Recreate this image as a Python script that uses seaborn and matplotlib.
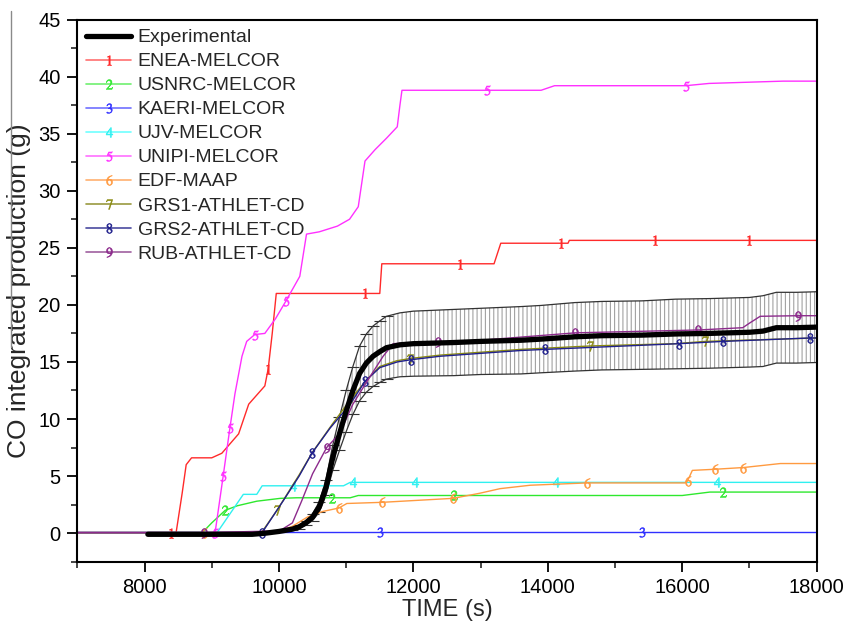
import numpy as np
import pandas as pd
import matplotlib
matplotlib.use("Agg")
import matplotlib.pyplot as plt
from matplotlib.lines import Line2D
from matplotlib.ticker import MultipleLocator
import seaborn as sns

# ---------------- data ----------------
exp_t = [8050, 9000, 9600, 9800, 10000, 10200, 10300, 10400, 10500, 10600, 10700, 10800,
         10900, 11000, 11100, 11200, 11300, 11400, 11500, 11600, 11800, 12000, 12600, 13000,
         13600, 13900, 14400, 14800, 15400, 15900, 16400, 17000, 17200, 17400, 17700, 18000]
exp_v = [-0.1, -0.1, -0.1, 0.0, 0.15, 0.35, 0.55, 0.9, 1.4, 2.3, 4.0, 6.6,
         8.7, 10.7, 12.5, 14.0, 14.9, 15.5, 15.9, 16.25, 16.5, 16.6, 16.7, 16.8,
         16.9, 17.0, 17.2, 17.3, 17.35, 17.45, 17.5, 17.6, 17.7, 18.0, 18.0, 18.05]
exp_err = [0, 0, 0, 0, 0, 0.1, 0.15, 0.2, 0.3, 0.45, 0.7, 1.1,
           1.45, 1.8, 2.1, 2.4, 2.55, 2.65, 2.7, 2.75, 2.8, 2.85, 2.9, 2.9,
           2.95, 2.95, 3.0, 3.0, 3.0, 3.05, 3.05, 3.05, 3.1, 3.1, 3.1, 3.1]

enea_t = [7000, 8400, 8470, 8560, 8620, 8700, 9000, 9150, 9400, 9550, 9790, 9840, 9900, 9960,
          10020, 11280, 11500, 11530, 12700, 13200, 13300, 14200, 14300, 14320, 15600, 17000, 18000]
enea_v = [0.05, 0.05, 0.05, 3.5, 6.0, 6.6, 6.6, 7.0, 8.7, 11.3, 12.9, 14.4, 17.5, 21.0,
          21.0, 21.0, 21.0, 23.6, 23.6, 23.6, 25.4, 25.4, 25.4, 25.65, 25.65, 25.65, 25.65]
enea_mk = [1, 11, 15, 18, 21, 24, 25]

usnrc_t = [7000, 8860, 9000, 9200, 9380, 9670, 10020, 10265, 10790, 11060, 11180, 12600,
           16000, 16410, 16600, 18000]
usnrc_v = [0.05, 0.05, 0.9, 2.0, 2.4, 2.8, 3.05, 3.1, 3.1, 3.1, 3.3, 3.3,
           3.3, 3.6, 3.6, 3.6]
usnrc_mk = [3, 8, 11, 14]

kaeri_t = [7000, 11500, 15400, 18000]
kaeri_v = [0.1, 0.1, 0.1, 0.1]
kaeri_mk = [1, 2]

ujv_t = [7000, 9080, 9470, 9670, 9750, 10210, 10960, 11060, 11100, 12030, 14120, 16520, 18000]
ujv_v = [0.05, 0.05, 3.4, 3.4, 4.15, 4.15, 4.15, 4.45, 4.45, 4.45, 4.45, 4.45, 4.45]
ujv_mk = [5, 8, 9, 10, 11]

unipi_t = [7000, 9050, 9170, 9270, 9345, 9450, 9520, 9640, 9790, 9950, 10100, 10310, 10410,
           10600, 10870, 11050, 11180, 11280, 11430, 11600, 11760, 11800, 11830, 13100, 13900,
           14100, 16050, 16400, 17500, 18000]
unipi_v = [0.05, 0.05, 5.0, 9.2, 12.2, 15.5, 16.8, 17.4, 17.5, 18.8, 20.3, 22.5, 26.2,
           26.4, 26.9, 27.5, 28.6, 32.6, 33.6, 34.6, 35.6, 37.5, 38.8, 38.8, 38.8,
           39.2, 39.2, 39.4, 39.6, 39.6]
unipi_mk = [1, 2, 3, 7, 10, 23, 26]

edf_t = [7000, 8890, 9950, 10200, 10420, 10650, 10890, 11010, 11530, 12590, 12990, 13290,
         13740, 14580, 16040, 16080, 16150, 16490, 16910, 17460, 18000]
edf_v = [0.05, 0.05, 0.05, 0.6, 1.4, 1.9, 2.2, 2.6, 2.7, 3.05, 3.5, 3.9,
         4.2, 4.4, 4.4, 4.6, 5.5, 5.6, 5.75, 6.1, 6.1]
edf_mk = [1, 6, 8, 9, 13, 15, 17, 18]

grs1_t = [7000, 9740, 9970, 10300, 10500, 10800, 11090, 11300, 11500, 11750, 11950, 12400,
          13600, 14630, 15900, 16340, 18000]
grs1_v = [0.05, 0.05, 2.0, 5.1, 7.1, 9.6, 11.9, 13.4, 14.6, 15.1, 15.3, 15.6,
          16.1, 16.4, 16.6, 16.8, 17.1]
grs1_mk = [2, 6, 10, 13, 15]

grs2_t = [7000, 9750, 10065, 10300, 10490, 10760, 11060, 11280, 11500, 11760, 11970, 12400,
          13590, 13960, 15950, 16610, 17900, 18000]
grs2_v = [0.05, 0.05, 2.85, 5.0, 7.0, 9.2, 11.3, 13.3, 14.5, 15.0, 15.2, 15.5,
          16.0, 16.1, 16.6, 16.8, 17.1, 17.1]
grs2_mk = [1, 4, 7, 10, 13, 14, 15, 16]

rub_t = [7000, 8890, 10010, 10200, 10340, 10500, 10710, 10900, 11100, 11310, 11550, 11700,
         12000, 12370, 13000, 14410, 16240, 16900, 17000, 17160, 17720, 18000]
rub_v = [0.05, 0.05, 0.2, 0.9, 2.85, 5.2, 7.5, 8.7, 11.3, 13.3, 15.5, 16.6,
         16.7, 16.75, 16.9, 17.55, 17.8, 18.0, 18.4, 19.0, 19.05, 19.05]
rub_mk = [1, 6, 13, 15, 16, 20]

series_names = ["ENEA-MELCOR", "USNRC-MELCOR", "KAERI-MELCOR", "UJV-MELCOR", "UNIPI-MELCOR",
                "EDF-MAAP", "GRS1-ATHLET-CD", "GRS2-ATHLET-CD", "RUB-ATHLET-CD"]
series_data = [(enea_t, enea_v, enea_mk), (usnrc_t, usnrc_v, usnrc_mk), (kaeri_t, kaeri_v, kaeri_mk),
               (ujv_t, ujv_v, ujv_mk), (unipi_t, unipi_v, unipi_mk), (edf_t, edf_v, edf_mk),
               (grs1_t, grs1_v, grs1_mk), (grs2_t, grs2_v, grs2_mk), (rub_t, rub_v, rub_mk)]
series_colors = ["#ff2a2a", "#2ee82e", "#3030ff", "#30f0f0", "#ff30ff", "#ff9a40",
                 "#8a8a10", "#20208c", "#8c2a8c"]
legend_colors = ["#ff7070", "#70f070", "#7070ff", "#70ffff", "#ff70ff", "#ffb070",
                 "#9a9a40", "#4a4aa0", "#a060a0"]

# ---------------- style ----------------
sns.set_style("ticks")
plt.rcParams["font.family"] = ["Liberation Sans", "DejaVu Sans"]
plt.rcParams["mathtext.fontset"] = "stix"
plt.rcParams["hatch.linewidth"] = 0.8

fig = plt.figure(figsize=(8.46, 6.21), dpi=100)
ax = fig.add_axes([77.3 / 846, 1 - 561.7 / 621, (816.7 - 77.3) / 846, (561.7 - 19.5) / 621])

# experimental error band
et = np.array(exp_t); ev = np.array(exp_v); ee = np.array(exp_err)
m = ee > 0
ax.fill_between(et[m], (ev - ee)[m], (ev + ee)[m], facecolor="none", edgecolor="#a2a2a2",
                hatch="||||", linewidth=0, zorder=1)
ax.plot(et[m], (ev + ee)[m], color="#333333", lw=0.9, zorder=1.5)
ax.plot(et[m], (ev - ee)[m], color="#333333", lw=0.9, zorder=1.5)
rise = m & (et <= 11600)
ax.plot(et[rise], (ev + ee)[rise], ls="none", marker="_", ms=8, mew=0.8, color="#333333", zorder=1.5)
ax.plot(et[rise], (ev - ee)[rise], ls="none", marker="_", ms=8, mew=0.8, color="#333333", zorder=1.5)

for i, ((t, v, mk), c) in enumerate(zip(series_data, series_colors)):
    df = pd.DataFrame({"t": t, "v": v})
    sns.lineplot(data=df, x="t", y="v", ax=ax, estimator=None, sort=False, color=c, lw=1.0,
                 marker=f"${i+1}$", markevery=mk, markersize=7, markeredgewidth=0.4,
                 markerfacecolor=c, markeredgecolor=c, zorder=2)

dfe = pd.DataFrame({"t": exp_t, "v": exp_v})
sns.lineplot(data=dfe, x="t", y="v", ax=ax, estimator=None, sort=False, color="black",
             lw=3.8, zorder=3)

ax.set_xlim(7000, 18000)
ax.set_ylim(-2.5, 45)
ax.xaxis.set_major_locator(MultipleLocator(2000))
ax.xaxis.set_minor_locator(MultipleLocator(1000))
ax.yaxis.set_major_locator(MultipleLocator(5))
ax.yaxis.set_minor_locator(MultipleLocator(2.5))
ax.tick_params(which="major", direction="out", length=7, width=1.3, labelsize=14.5, pad=5,
               colors="black")
ax.tick_params(which="minor", direction="out", length=4, width=1.2)
for s in ax.spines.values():
    s.set_visible(True)
    s.set_linewidth(1.5)
    s.set_color("black")
ax.set_xlabel("TIME (s)", fontsize=17, labelpad=1)
ax.set_ylabel("CO integrated production (g)", fontsize=19, labelpad=5)

handles = [Line2D([], [], color="black", lw=3.8, label="Experimental")]
for i, (n, c) in enumerate(zip(series_names, legend_colors)):
    handles.append(Line2D([], [], color=c, lw=1.2, marker=f"${i+1}$", ms=7, mew=0.4,
                          markerfacecolor=series_colors[i], markeredgecolor=series_colors[i],
                          label=n))
ax.legend(handles=handles, loc="upper left", bbox_to_anchor=(0.012, 0.983), frameon=False,
          fontsize=14, handlelength=2.3, handletextpad=0.35, labelspacing=0.33,
          borderpad=0, borderaxespad=0)

fig.add_artist(Line2D([11 / 846, 11 / 846], [1 - 11 / 621, 1 - 347 / 621], color="#8a8a8a",
                      lw=1.0, transform=fig.transFigure))

fig.savefig("out.png", dpi=100)
